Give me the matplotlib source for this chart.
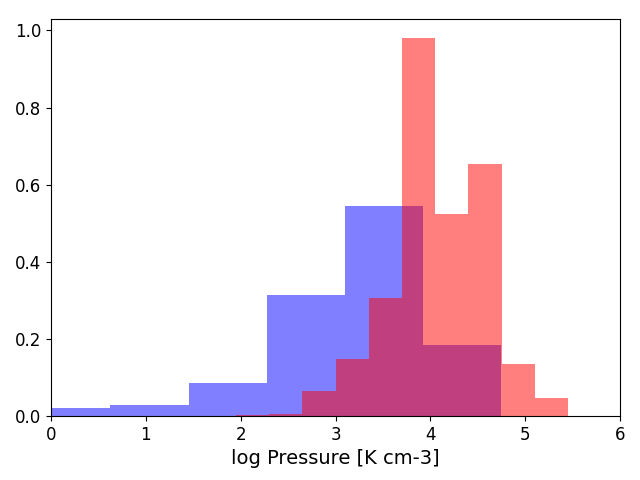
import numpy as np
import matplotlib
matplotlib.use("Agg")
import matplotlib.pyplot as plt

# blue histogram (density), 6 bins
blue_edges = [-0.2, 0.623, 1.456, 2.28, 3.10, 3.92, 4.74]
blue_heights = [0.021, 0.028, 0.085, 0.315, 0.545, 0.183]

# red histogram (density), 10 bins
red_edges = [1.95, 2.30, 2.65, 3.00, 3.35, 3.70, 4.05, 4.40, 4.75, 5.10, 5.45]
red_heights = [0.003, 0.006, 0.065, 0.147, 0.307, 0.980, 0.525, 0.654, 0.134, 0.046]

blue_centers = [(a + b) / 2 for a, b in zip(blue_edges[:-1], blue_edges[1:])]
red_centers = [(a + b) / 2 for a, b in zip(red_edges[:-1], red_edges[1:])]

fig, ax = plt.subplots(figsize=(6.4, 4.8), dpi=100)
ax.hist(blue_centers, bins=blue_edges, weights=blue_heights, color="blue", alpha=0.5)
ax.hist(red_centers, bins=red_edges, weights=red_heights, color="red", alpha=0.5)
ax.set_xlim(0, 6)
ax.set_ylim(bottom=0)
ax.set_xlabel("log Pressure [K cm-3]", fontsize=14)
ax.tick_params(labelsize=12)
plt.subplots_adjust(left=0.0797, right=0.969, top=0.960, bottom=0.1333)
plt.savefig("out.png")
